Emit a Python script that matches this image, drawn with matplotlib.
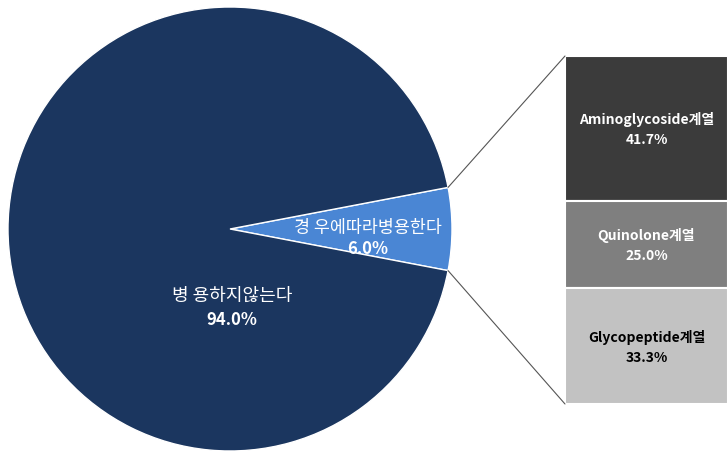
import matplotlib.pyplot as plt
from matplotlib.patches import ConnectionPatch
import numpy as np

plt.rcParams['font.family'] = ['Noto Sans CJK KR', 'DejaVu Sans']

# 병용 여부
pie_labels = ['경 우에따라병용한다', '병 용하지않는다']
pie_values = [6.0, 94.0]
pie_colors = ['#4a86d4', '#1b365f']

# 병용 시 계열
bar_labels = ['Aminoglycoside계열', 'Quinolone계열', 'Glycopeptide계열']
bar_values = [41.7, 25.0, 33.3]
bar_colors = ['#3b3b3b', '#7f7f7f', '#c2c2c2']
bar_text_colors = ['white', 'white', 'black']

W, H = 728, 452
fig = plt.figure(figsize=(W / 100, H / 100), dpi=100)

# pie: center (230,230) px, radius 222 px
ax1 = fig.add_axes([8 / W, 0 / H, 444 / W, 444 / H])
half = pie_values[0] / 100 * 360 / 2
wedges, _ = ax1.pie(pie_values, colors=pie_colors, startangle=-half,
                    radius=1, wedgeprops=dict(edgecolor='white', linewidth=1))
ax1.set_xlim(-1, 1)
ax1.set_ylim(-1, 1)
ax1.set_aspect('equal')
ax1.axis('off')

# pie labels: name (normal) + percent (bold)
ax1.text(0.62, 0.01, pie_labels[0], ha='center', va='center', color='white',
         fontsize=12.5)
ax1.text(0.62, -0.085, '%.1f%%' % pie_values[0], ha='center', va='center',
         color='white', fontsize=12, fontweight='bold')
ax1.text(0.01, -0.295, pie_labels[1], ha='center', va='center', color='white',
         fontsize=13)
ax1.text(0.01, -0.405, '%.1f%%' % pie_values[1], ha='center', va='center',
         color='white', fontsize=12, fontweight='bold')

# stacked bar: x 565..728, y 57..405 px
ax2 = fig.add_axes([565 / W, 47 / H, 163 / W, 348 / H])
bottom = 0
for lab, v, c, tc in zip(bar_labels, bar_values, bar_colors, bar_text_colors):
    ax2.bar(0, v, width=1, bottom=bottom, color=c, edgecolor='white', linewidth=1.5)
    ax2.text(0, bottom + v / 2, lab + '\n' + '%.1f%%' % v, ha='center', va='center',
             color=tc, fontsize=10, fontweight='bold', linespacing=1.55)
    bottom += v
ax2.set_xlim(-0.5, 0.5)
ax2.set_ylim(100, 0)
ax2.axis('off')

# connection lines
theta = np.deg2rad(half)
x0, y0 = np.cos(theta), np.sin(theta)
con1 = ConnectionPatch(xyA=(x0, y0), coordsA=ax1.transData,
                       xyB=(-0.5, 0), coordsB=ax2.transData,
                       color='#555555', linewidth=0.8)
con2 = ConnectionPatch(xyA=(x0, -y0), coordsA=ax1.transData,
                       xyB=(-0.5, 100), coordsB=ax2.transData,
                       color='#555555', linewidth=0.8)
fig.add_artist(con1)
fig.add_artist(con2)

fig.savefig('out.png', dpi=100)
